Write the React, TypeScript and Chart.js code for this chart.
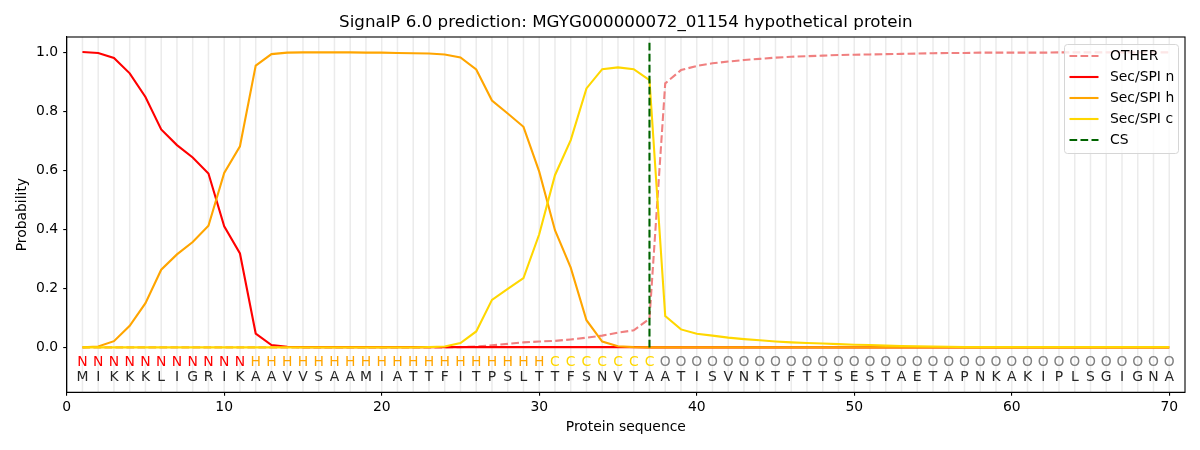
import { Chart, registerables } from 'chart.js';
import { useRef, useEffect } from 'react';

Chart.register(...registerables);

const TITLE = 'SignalP 6.0 prediction: MGYG000000072_01154 hypothetical protein';

const sequence = 'MIKKKLIGRIKAAVVSAAMIATTFITPSLTTFSNVTAATISVNKTFTTSESTAETAPNKAKIPLSGIGNA'.split('');
const regions = 'NNNNNNNNNNNHHHHHHHHHHHHHHHHHHHCCCCCCCOOOOOOOOOOOOOOOOOOOOOOOOOOOOOOOOO'.split('');

const otherProb = [
	0, 0, 0, 0, 0, 0, 0, 0, 0, 0,
	0, 0, 0, 0, 0, 0, 0, 0, 0, 0,
	0, 0, 0, 0, 0.001, 0.003, 0.007, 0.012, 0.017, 0.02,
	0.022, 0.027, 0.033, 0.04, 0.05, 0.058, 0.097, 0.894, 0.939, 0.953,
	0.962, 0.968, 0.973, 0.977, 0.981, 0.984, 0.986, 0.988, 0.99, 0.991,
	0.992, 0.993, 0.994, 0.995, 0.996, 0.997, 0.997, 0.998, 0.998, 0.998,
	0.998, 0.998, 0.999, 0.999, 0.999, 0.999, 0.999, 0.999, 0.999, 0.999,
];
const nProb = [
	1.0, 0.997, 0.98, 0.928, 0.848, 0.738, 0.685, 0.643, 0.589, 0.41,
	0.318, 0.047, 0.008, 0.002, 0.001, 0.001, 0.001, 0.001, 0.001, 0.001,
	0.001, 0.001, 0.001, 0.001, 0.001, 0.001, 0.001, 0.001, 0.001, 0.001,
	0.001, 0.001, 0.001, 0.001, 0.001, 0.001, 0, 0, 0, 0,
	0, 0, 0, 0, 0, 0, 0, 0, 0, 0,
	0, 0, 0, 0, 0, 0, 0, 0, 0, 0,
	0, 0, 0, 0, 0, 0, 0, 0, 0, 0,
];
const hProb = [
	0, 0.003, 0.021, 0.073, 0.15, 0.263, 0.315, 0.357, 0.412, 0.591,
	0.681, 0.954, 0.993, 0.998, 0.999, 0.999, 0.999, 0.999, 0.998, 0.998,
	0.997, 0.996, 0.995, 0.992, 0.982, 0.941, 0.836, 0.792, 0.747, 0.595,
	0.397, 0.27, 0.092, 0.02, 0.004, 0.001, 0, 0, 0, 0,
	0, 0, 0, 0, 0, 0, 0, 0, 0, 0,
	0, 0, 0, 0, 0, 0, 0, 0, 0, 0,
	0, 0, 0, 0, 0, 0, 0, 0, 0, 0,
];
const cProb = [
	0, 0, 0, 0, 0, 0, 0, 0, 0, 0,
	0, 0, 0, 0, 0, 0, 0, 0, 0, 0,
	0, 0, 0.001, 0.003, 0.015, 0.054, 0.161, 0.198, 0.235, 0.383,
	0.583, 0.702, 0.877, 0.942, 0.948, 0.942, 0.905, 0.106, 0.061, 0.046,
	0.04, 0.033, 0.028, 0.024, 0.02, 0.017, 0.015, 0.013, 0.011, 0.009,
	0.008, 0.006, 0.005, 0.004, 0.003, 0.002, 0.001, 0.001, 0.001, 0.001,
	0.001, 0.001, 0.001, 0.001, 0.001, 0.001, 0.001, 0.001, 0.001, 0.001,
];
const cleavageSite = 37;
const csSpan = [0, 1.035];

const yTicks = [0, 0.2, 0.4, 0.6, 0.8, 1.0];
const xTicks = [0, 10, 20, 30, 40, 50, 60, 70];

const FONT = '"DejaVu Sans", sans-serif';
const regionColors: Record<string, string> = { N: '#ff0000', H: '#ffa500', C: '#ffd700', O: '#808080' };

const legendItems = [
	{ label: 'OTHER', color: '#f08080', dash: [7.7, 3.3] },
	{ label: 'Sec/SPI n', color: '#ff0000', dash: [] },
	{ label: 'Sec/SPI h', color: '#ffa500', dash: [] },
	{ label: 'Sec/SPI c', color: '#ffd700', dash: [] },
	{ label: 'CS', color: '#006400', dash: [7.7, 3.3] },
];

const toPoints = (vals: number[]) => vals.map((y, i) => ({ x: i + 1, y }));

const decorPlugin = {
	id: 'decor',
	beforeDatasetsDraw(chart: any) {
		const { ctx, chartArea } = chart;
		const xs = chart.scales.x;
		ctx.save();
		ctx.strokeStyle = '#ebebeb';
		ctx.lineWidth = 1.5;
		sequence.forEach((_, i) => {
			const px = xs.getPixelForValue(i + 1);
			ctx.beginPath();
			ctx.moveTo(px, chartArea.top);
			ctx.lineTo(px, chartArea.bottom);
			ctx.stroke();
		});
		ctx.restore();
	},
	afterDraw(chart: any) {
		const { ctx, chartArea } = chart;
		const xs = chart.scales.x;
		const ys = chart.scales.y;
		ctx.save();
		// sequence letters
		ctx.font = `13.9px ${FONT}`;
		ctx.textAlign = 'center';
		ctx.textBaseline = 'middle';
		sequence.forEach((aa, i) => {
			const px = xs.getPixelForValue(i + 1);
			ctx.fillStyle = regionColors[regions[i]];
			ctx.fillText(regions[i], px, ys.getPixelForValue(-0.05));
			ctx.fillStyle = '#262626';
			ctx.fillText(aa, px, ys.getPixelForValue(-0.1));
		});
		// frame
		ctx.strokeStyle = '#000';
		ctx.lineWidth = 1.1;
		ctx.strokeRect(chartArea.left, chartArea.top, chartArea.right - chartArea.left, chartArea.bottom - chartArea.top);
		// title and axis titles
		ctx.fillStyle = '#000';
		ctx.font = `16.7px ${FONT}`;
		ctx.fillText(TITLE, (chartArea.left + chartArea.right) / 2, 23);
		ctx.font = `13.9px ${FONT}`;
		ctx.fillText('Protein sequence', (chartArea.left + chartArea.right) / 2, 427);
		ctx.save();
		ctx.translate(22, (chartArea.top + chartArea.bottom) / 2);
		ctx.rotate(-Math.PI / 2);
		ctx.fillText('Probability', 0, 0);
		ctx.restore();
		// legend
		const lx = 1064.5, ly = 44.5, lw = 114, lh = 109, r = 3;
		ctx.beginPath();
		ctx.moveTo(lx + r, ly);
		ctx.arcTo(lx + lw, ly, lx + lw, ly + lh, r);
		ctx.arcTo(lx + lw, ly + lh, lx, ly + lh, r);
		ctx.arcTo(lx, ly + lh, lx, ly, r);
		ctx.arcTo(lx, ly, lx + lw, ly, r);
		ctx.closePath();
		ctx.fillStyle = 'rgba(255,255,255,0.8)';
		ctx.fill();
		ctx.strokeStyle = '#d6d6d6';
		ctx.lineWidth = 1;
		ctx.stroke();
		ctx.textAlign = 'left';
		legendItems.forEach((item, i) => {
			const cy = 56 + i * 21;
			ctx.strokeStyle = item.color;
			ctx.lineWidth = 2.1;
			ctx.setLineDash(item.dash);
			ctx.beginPath();
			ctx.moveTo(1069.5, cy);
			ctx.lineTo(1098.5, cy);
			ctx.stroke();
			ctx.setLineDash([]);
			ctx.fillStyle = '#000';
			ctx.fillText(item.label, 1110, cy);
		});
		ctx.restore();
	},
};

export default function App() {
	const chartRef = useRef<HTMLCanvasElement>(null);

	useEffect(() => {
		const ctx = chartRef.current!.getContext('2d')!;
		const lineStyle = { borderWidth: 2.1, pointRadius: 0, fill: false, tension: 0 };

		const chartInstance = new Chart(ctx, {
			type: 'line',
			data: {
				datasets: [
					{ label: 'OTHER', data: toPoints(otherProb), borderColor: '#f08080', borderDash: [7.7, 3.3], order: 5, ...lineStyle },
					{ label: 'Sec/SPI n', data: toPoints(nProb), borderColor: '#ff0000', order: 4, ...lineStyle },
					{ label: 'Sec/SPI h', data: toPoints(hProb), borderColor: '#ffa500', order: 3, ...lineStyle },
					{ label: 'Sec/SPI c', data: toPoints(cProb), borderColor: '#ffd700', order: 2, ...lineStyle },
					{
						label: 'CS',
						data: csSpan.map((y) => ({ x: cleavageSite, y })),
						borderColor: '#006400',
						borderDash: [7.7, 3.3],
						order: 1,
						...lineStyle,
					},
				],
			},
			options: {
				animation: false,
				responsive: false,
				maintainAspectRatio: false,
				layout: { padding: { left: 0, top: 37, right: 15, bottom: 0 } },
				plugins: { legend: { display: false }, title: { display: false }, tooltip: { enabled: false } },
				scales: {
					x: {
						type: 'linear',
						min: 0,
						max: 71,
						afterBuildTicks: (scale: any) => {
							scale.ticks = xTicks.map((value) => ({ value }));
						},
						afterFit: (scale: any) => {
							scale.height = 57.7;
						},
						ticks: { color: '#000', font: { family: FONT, size: 13.9 }, padding: 3, maxRotation: 0, autoSkip: false },
						grid: { drawOnChartArea: false, drawTicks: true, tickLength: 3.5, color: '#000', lineWidth: 1.1 },
						border: { display: true, color: '#000', width: 1.1 },
					},
					y: {
						type: 'linear',
						min: -0.152,
						max: 1.051,
						afterBuildTicks: (scale: any) => {
							scale.ticks = yTicks.map((value) => ({ value }));
						},
						afterFit: (scale: any) => {
							scale.width = 66.7;
						},
						ticks: {
							color: '#000',
							font: { family: FONT, size: 13.9 },
							padding: 5,
							autoSkip: false,
							callback: (v: any) => Number(v).toFixed(1),
						},
						grid: { drawOnChartArea: false, drawTicks: true, tickLength: 3.5, color: '#000', lineWidth: 1.1 },
						border: { display: true, color: '#000', width: 1.1 },
					},
				},
			},
			plugins: [decorPlugin],
		});

		return () => {
			chartInstance.destroy();
		};
	}, []);

	return (
		<div style={{ position: 'fixed', left: 0, top: 0, width: 1200, height: 450, background: '#fff' }}>
			<canvas ref={chartRef} width={1200} height={450} style={{ width: 1200, height: 450 }} />
		</div>
	);
}
